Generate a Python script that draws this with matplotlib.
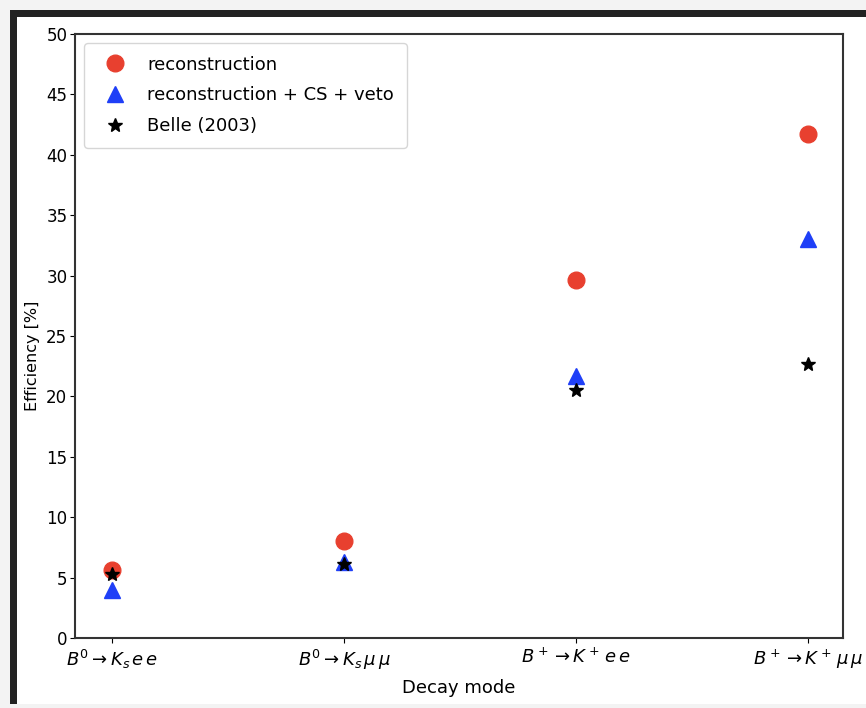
import numpy as np
import matplotlib
matplotlib.use('Agg')
import matplotlib.pyplot as plt
from matplotlib.patches import Rectangle

# efficiencies [%] per decay mode
modes = [r'$B^0 \rightarrow K_s\,e\,e$', r'$B^0 \rightarrow K_s\,\mu\,\mu$',
         r'$B^+ \rightarrow K^+\,e\,e$', r'$B^+ \rightarrow K^+\,\mu\,\mu$']
eff_reco = [5.6, 8.0, 29.6, 41.7]
eff_reco_cs_veto = [4.0, 6.3, 21.7, 33.0]
eff_belle = [5.3, 6.1, 20.5, 22.7]

W, H = 866, 708
fig = plt.figure(figsize=(W / 100, H / 100), dpi=100)
fig.patch.set_facecolor('#f3f3f3')


def px_rect(x0, y0, x1, y1, color):
    fig.patches.append(Rectangle((x0 / W, 1 - y1 / H), (x1 - x0) / W, (y1 - y0) / H,
                                 transform=fig.transFigure, facecolor=color,
                                 edgecolor='none', zorder=-10))


# screenshot frame: dark border on top/left, white canvas inside
px_rect(10, 10, W, 704, '#222222')
px_rect(17, 17, W, 704, 'white')

ax = fig.add_axes([75 / W, 1 - 638 / H, (843 - 75) / W, (638 - 34) / H])
x = np.arange(len(modes))

ax.plot(x, eff_reco, 'o', color='#e8402f', markersize=12, label='reconstruction')
ax.plot(x, eff_reco_cs_veto, '^', color='#1f3ff7', markersize=11,
        label='reconstruction + CS + veto')
ax.plot(x, eff_belle, '*', color='black', markersize=10, label='Belle (2003)')

ax.set_xlim(-0.16, 3.15)
ax.set_ylim(0, 50)
ax.set_yticks(np.arange(0, 51, 5))
ax.set_xticks(x)
ax.set_xticklabels(modes, fontsize=13)
ax.tick_params(axis='y', labelsize=12, pad=2)
ax.set_xlabel('Decay mode', fontsize=13, labelpad=5)
ax.set_ylabel('Efficiency [%]', fontsize=11.5)
ax.yaxis.set_label_coords(-0.046, 0.467)
for s in ax.spines.values():
    s.set_linewidth(1.5)
    s.set_color('#333333')

ax.legend(loc='upper left', fontsize=13, numpoints=1, handletextpad=0.8,
          borderpad=0.7, labelspacing=0.7)

fig.savefig('out.png', dpi=100, facecolor=fig.get_facecolor())
